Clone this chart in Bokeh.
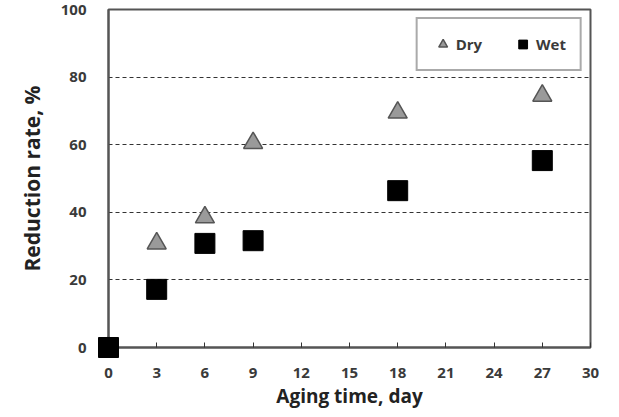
from bokeh.plotting import figure
from bokeh.models import Legend, LegendItem, FixedTicker, Range1d
from bokeh.embed import file_html
from bokeh.resources import INLINE

days = [0, 3, 6, 9, 18, 27]
dry = [0, 30.8, 38.5, 60.5, 69.5, 74.5]
wet = [0, 17.2, 30.8, 31.6, 46.4, 55.3]
x_ticks = [0, 3, 6, 9, 12, 15, 18, 21, 24, 27, 30]
y_ticks = [0, 20, 40, 60, 80, 100]

FONT = "Open Sans"
TXT = "#3a3a3a"

p = figure(width=619, height=417, output_backend="svg", toolbar_location=None,
           x_range=Range1d(0, 30), y_range=Range1d(0, 100),
           min_border_left=108, min_border_right=29, min_border_top=9, min_border_bottom=70)
p.background_fill_color = "white"
p.border_fill_color = "white"
p.outline_line_color = "#555555"
p.outline_line_width = 2

p.xaxis.ticker = FixedTicker(ticks=x_ticks)
p.yaxis.ticker = FixedTicker(ticks=y_ticks)
p.xaxis.minor_tick_line_color = None
p.yaxis.minor_tick_line_color = None
p.xaxis.major_tick_in = 5
p.xaxis.major_tick_out = 0
for ax in (p.xaxis, p.yaxis):
    ax.axis_line_color = "#555555"
    ax.axis_line_width = 2
    ax.major_label_text_font = FONT
    ax.major_label_text_font_style = "bold"
    ax.major_label_text_font_size = "15px"
    ax.major_label_text_color = TXT
    ax.axis_label_text_font = FONT
    ax.axis_label_text_font_style = "bold"
    ax.axis_label_text_color = "#222222"
p.xaxis.major_tick_line_color = "#333333"
p.yaxis.major_tick_line_color = None
p.xaxis.major_label_standoff = 20
p.yaxis.major_label_standoff = 16
p.xaxis.axis_label = "Aging time, day"
p.yaxis.axis_label = "Reduction rate, %"
p.xaxis.axis_label_text_font_size = "19px"
p.yaxis.axis_label_text_font_size = "21px"
p.xaxis.axis_label_standoff = 2
p.yaxis.axis_label_standoff = 12

p.xgrid.grid_line_color = None
p.ygrid.ticker = FixedTicker(ticks=[20, 40, 60, 80])
p.ygrid.grid_line_color = "#333333"
p.ygrid.grid_line_dash = "4 3"
p.ygrid.grid_line_width = 1.2

r_dry = p.scatter(days, dry, marker="triangle", size=19, fill_color="#9a9a9a",
                  line_color="#555555", line_width=1.5, level="overlay")
r_wet = p.scatter(days, wet, marker="square", size=20, fill_color="black",
                  line_color="black", level="overlay")

legend = Legend(items=[LegendItem(label="Dry", renderers=[r_dry]),
                       LegendItem(label="Wet", renderers=[r_wet])],
                orientation="horizontal", location="top_right")
legend.border_line_color = "#555555"
legend.border_line_width = 2
legend.label_text_font = FONT
legend.label_text_font_style = "bold"
legend.label_text_font_size = "15px"
legend.label_text_color = TXT
legend.glyph_width = 22
legend.glyph_height = 22
legend.spacing = 30
legend.padding = 14
legend.margin = 8
legend.label_standoff = 2
p.add_layout(legend)

open("out.html", "w").write(file_html(p, INLINE))
